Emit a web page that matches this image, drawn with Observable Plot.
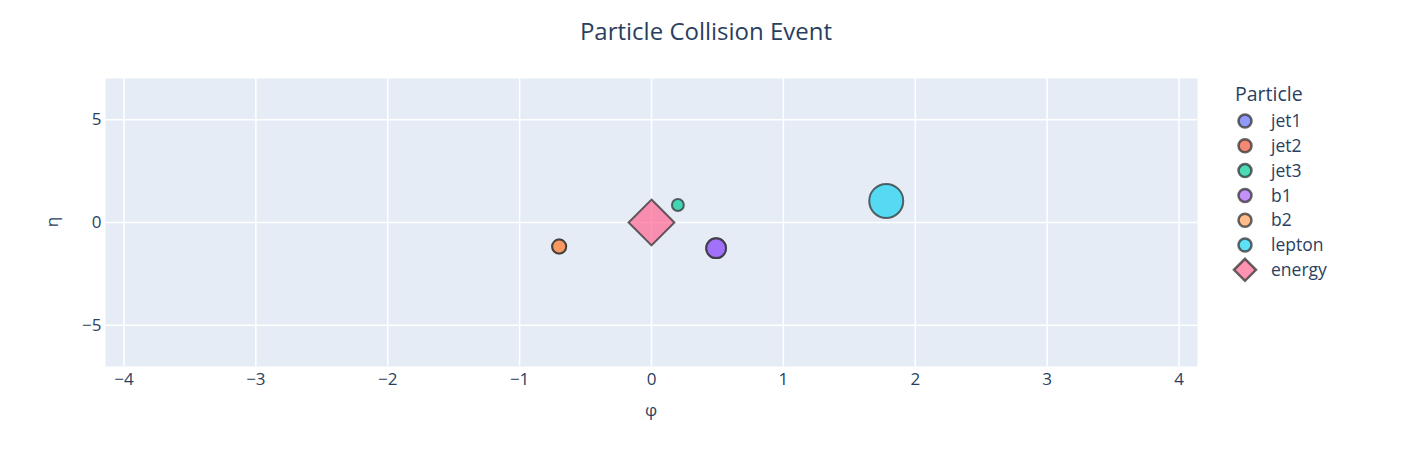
<!DOCTYPE html>
<html><head><meta charset="utf-8">
<script src="https://cdn.jsdelivr.net/npm/d3@7"></script>
<script src="https://cdn.jsdelivr.net/npm/@observablehq/plot@0.6"></script>
<style>
body{margin:0;background:#fff;font-family:"Open Sans",sans-serif;color:#2a3f5f}
#wrap{position:relative;width:1412px;height:471px;overflow:hidden}
#wrap > svg.chart{position:absolute;left:0;top:0}
.title{position:absolute;left:0;width:1412px;top:14px;text-align:center;font-size:24px;line-height:34px;white-space:nowrap}
.xlab{position:absolute;left:611px;width:80px;top:398px;text-align:center;font-size:17px;line-height:24px}
.ylab{position:absolute;left:12px;width:80px;top:210px;text-align:center;font-size:17px;line-height:24px;transform:rotate(-90deg)}
</style></head><body>
<div id="wrap">
  <div class="title">Particle Collision Event</div>
  <div class="xlab">φ</div>
  <div class="ylab">η</div>
</div>
<script>
// Data
const particles = ["jet1", "jet2", "jet3", "b1", "b2", "lepton", "energy"];
const phi = [0.49, -0.70, 0.20, 0.49, -0.70, 1.78, 0];
const eta = [-1.25, -1.17, 0.85, -1.25, -1.17, 1.05, 0];
const pt = [22, 11, 8, 22, 11, 65, 96];
const colors = ["#636efa", "#EF553B", "#00cc96", "#ab63fa", "#FFA15A", "#19d3f3", "#FF6692"];
const xTicks = [-4, -3, -2, -1, 0, 1, 2, 3, 4];
const yTicks = [-5, 0, 5];

const data = particles.map((p, i) => ({particle: p, phi: phi[i], eta: eta[i], pt: pt[i]}));
const dotsData = data.filter(d => d.particle !== "energy");
const energyData = data.filter(d => d.particle === "energy");

const chart = Plot.plot({
  className: "chart",
  width: 1412, height: 471,
  marginLeft: 105, marginRight: 215, marginTop: 78, marginBottom: 105,
  style: {fontFamily: '"Open Sans", sans-serif', fontSize: "17px", color: "#2a3f5f", background: "transparent"},
  x: {domain: [-4.14, 4.14], label: null},
  y: {domain: [-7, 7], label: null},
  r: {type: "sqrt", domain: [0, 65], range: [0, 17]},
  color: {domain: particles, range: colors},
  marks: [
    Plot.frame({fill: "#e5ecf6", stroke: null}),
    Plot.gridX(xTicks, {stroke: "#ffffff", strokeOpacity: 1, strokeWidth: 1.5}),
    Plot.gridY(yTicks, {stroke: "#ffffff", strokeOpacity: 1, strokeWidth: 1.5}),
    Plot.axisX(xTicks, {tickSize: 0, tickPadding: 6, fontSize: 17, label: null, tickFormat: "d"}),
    Plot.axisY(yTicks, {tickSize: 0, tickPadding: 4, fontSize: 17, label: null, tickFormat: "d"}),
    Plot.dot(dotsData, {x: "phi", y: "eta", r: "pt", fill: "particle", fillOpacity: 0.7,
      stroke: "#333", strokeOpacity: 0.75, strokeWidth: 2}),
    Plot.dot(energyData, {x: "phi", y: "eta", r: "pt", symbol: "diamond2", fill: "particle", fillOpacity: 0.7,
      stroke: "#333", strokeOpacity: 0.75, strokeWidth: 2})
  ]
});
chart.classList.add("chart");
document.getElementById("wrap").prepend(chart);

// Legend
const lg = d3.select("#wrap").append("svg")
  .attr("width", 150).attr("height", 210)
  .style("position", "absolute").style("left", "1225px").style("top", "80px")
  .style("font-family", '"Open Sans", sans-serif');
lg.append("text").attr("x", 10).attr("y", 21).attr("font-size", 19.5).attr("fill", "#2a3f5f").text("Particle");
particles.forEach((p, i) => {
  const cy = 41 + i * 24.8;
  const g = lg.append("g");
  if (p === "energy") {
    g.append("path").attr("d", `M20,${cy-11}L31,${cy}L20,${cy+11}L9,${cy}Z`)
      .attr("fill", colors[i]).attr("fill-opacity", 0.7)
      .attr("stroke", "#333").attr("stroke-opacity", 0.75).attr("stroke-width", 2.5);
  } else {
    g.append("circle").attr("cx", 20).attr("cy", cy).attr("r", 6.5)
      .attr("fill", colors[i]).attr("fill-opacity", 0.7)
      .attr("stroke", "#333").attr("stroke-opacity", 0.75).attr("stroke-width", 2.5);
  }
  g.append("text").attr("x", 46).attr("y", cy).attr("dy", "0.35em")
    .attr("font-size", 17.5).attr("fill", "#2a3f5f").text(p);
});
</script>
</body></html>
